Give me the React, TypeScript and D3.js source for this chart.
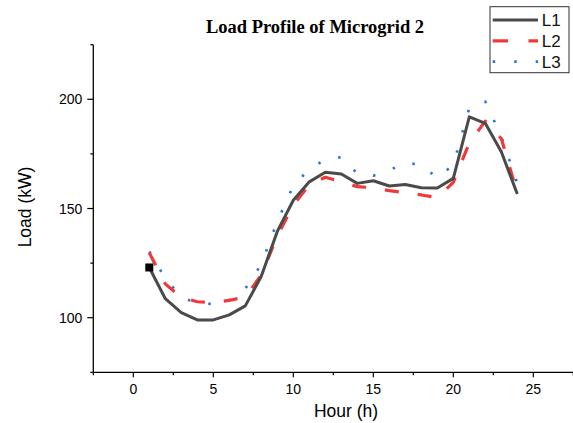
import React from "react";
import * as d3 from "d3";

const hours = [1,2,3,4,5,6,7,8,9,10,11,12,13,14,15,16,17,18,19,20,21,22,23,24];
const L1 = [123, 108.7, 102.3, 99, 99, 101.3, 105.4, 119, 139.5, 153.8, 162.2, 166.6, 165.8, 161.5, 162.7, 160.3, 161, 159.5, 159.4, 163.8, 192, 189, 176, 156.6];
const L2 = [129.7, 115.5, 109.3, 107.3, 106.9, 107.9, 109.5, 119.5, 137.5, 151.5, 161, 164.3, 162.3, 160, 159.5, 158.2, 157.2, 156.2, 155, 162, 180, 190, 182, 157];
const L3 = [130.3, 118, 109.5, 106.5, 106.3, 108, 113.3, 124.5, 144, 160.5, 168, 172.5, 173.5, 166, 165, 167.5, 171, 170, 164, 170, 196, 199, 183, 161.5];
const seriesNames = ["L1", "L2", "L3"];
const xTicks = [0, 5, 10, 15, 20, 25];
const yTicks = [100, 150, 200];

const W = 573, H = 423;
const x = d3.scaleLinear().domain([-2.5, 27.5]).range([93.3, 573.3]);
const y = d3.scaleLinear().domain([75, 225]).range([372.3, 44.7]);

const styles = [
  { color: "#4a4a4a", dash: "none", width: 3 },
  { color: "#f03a3a", dash: "14,19", width: 3.2 },
  { color: "#2a72e0", dash: "2.5,18.5", width: 2.6 },
];

export default function App() {
  const line = d3.line<number>().x((_, i) => x(hours[i])).y((d) => y(d));
  const data = [L1, L2, L3];
  const xMinor = d3.range(-2.5, 28, 2.5).filter((v) => v % 5 !== 0);
  const yMinor = [75, 125, 175, 225];
  const font = "Arial, 'Liberation Sans', sans-serif";
  return (
    <svg width={W} height={H} style={{ position: "absolute", left: 0, top: 0 }}>
      <rect width={W} height={H} fill="#fff" />
      <text x={315} y={33.3} textAnchor="middle" fontFamily="'Liberation Serif', 'Times New Roman', serif" fontWeight="bold" fontSize={18.5}>Load Profile of Microgrid 2</text>
      {[2, 1, 0].map((k) => (
        <path key={k} d={line(data[k]) || ""} fill="none" stroke={styles[k].color} strokeWidth={styles[k].width}
          strokeDasharray={styles[k].dash} strokeLinejoin="round" strokeLinecap="butt" />
      ))}
      <rect x={x(hours[0]) - 4} y={y(L1[0]) - 4} width={8} height={8} fill="#000" />
      <line x1={x(-2.5)} x2={x(-2.5)} y1={y(225)} y2={y(75)} stroke="#000" strokeWidth={1.3} />
      <line x1={x(-2.5)} x2={W} y1={y(75)} y2={y(75)} stroke="#000" strokeWidth={1.3} />
      {yTicks.map((t) => (
        <g key={t}>
          <line x1={x(-2.5) - 6} x2={x(-2.5)} y1={y(t)} y2={y(t)} stroke="#000" strokeWidth={1.2} />
          <text x={x(-2.5) - 11} y={y(t) + 5} textAnchor="end" fontFamily={font} fontSize={14}>{t}</text>
        </g>
      ))}
      {yMinor.map((t) => (
        <line key={t} x1={x(-2.5) - 3} x2={x(-2.5)} y1={y(t)} y2={y(t)} stroke="#000" strokeWidth={1.2} />
      ))}
      {xTicks.map((t) => (
        <g key={t}>
          <line x1={x(t)} x2={x(t)} y1={y(75)} y2={y(75) + 5} stroke="#000" strokeWidth={1.2} />
          <text x={x(t)} y={y(75) + 22} textAnchor="middle" fontFamily={font} fontSize={14}>{t}</text>
        </g>
      ))}
      {xMinor.map((t) => (
        <line key={t} x1={x(t)} x2={x(t)} y1={y(75)} y2={y(75) + 3} stroke="#000" strokeWidth={1.2} />
      ))}
      <text x={346} y={417} textAnchor="middle" fontFamily={font} fontSize={17.5}>Hour (h)</text>
      <text transform="translate(31,207) rotate(-90)" textAnchor="middle" fontFamily={font} fontSize={17.5}>Load (kW)</text>
      <rect x={490} y={6.7} width={79} height={66} fill="#fff" stroke="#333" strokeWidth={1} />
      {seriesNames.map((n, i) => (
        <g key={n}>
          <line x1={492.7} x2={538} y1={20 + i * 20.8} y2={20 + i * 20.8} stroke={styles[i].color}
            strokeWidth={styles[i].width} strokeDasharray={i === 1 ? "15.3,20.5" : i === 2 ? "2.5,19" : "none"} />
          <text x={541.7} y={20 + i * 20.8 + 6} fontFamily={font} fontSize={17} fill="#111">{n}</text>
        </g>
      ))}
    </svg>
  );
}
